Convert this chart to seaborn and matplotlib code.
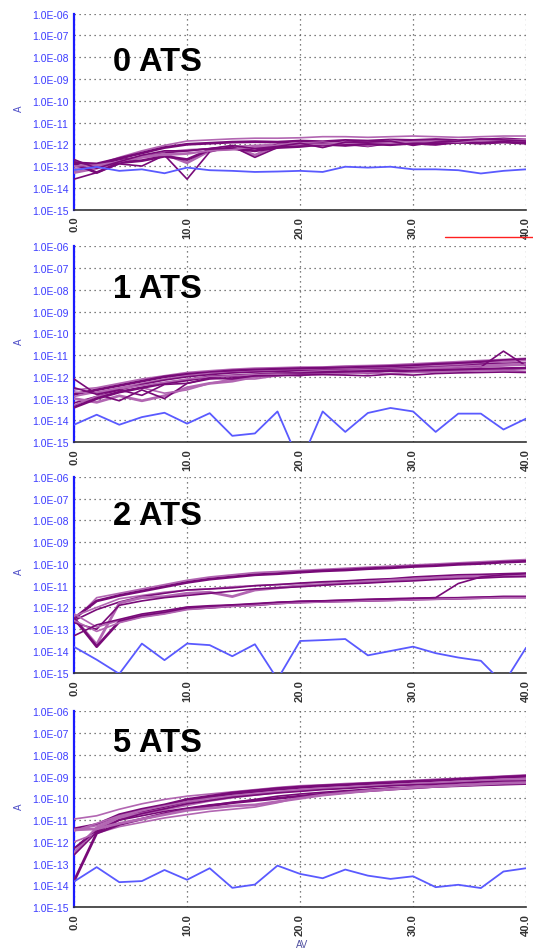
import numpy as np
import pandas as pd
import matplotlib
matplotlib.use("Agg")
import matplotlib.pyplot as plt
import seaborn as sns
from matplotlib.ticker import FixedLocator, FuncFormatter, LogLocator, NullFormatter
from matplotlib.lines import Line2D

# ---------------- data (log10 of current, sampled every 2 V) ----------------
voltage = [0, 2, 4, 6, 8, 10, 12, 14, 16, 18, 20, 22, 24, 26, 28, 30, 32, 34, 36, 38, 40]
panel_titles = ["0 ATS", "1 ATS", "2 ATS", "5 ATS"]

# noise-floor (blue) traces
blue_0ats = [-13.18, -13.04, -13.22, -13.15, -13.33, -13.07, -13.19, -13.22, -13.27, -13.25, -13.22,
             -13.27, -13.03, -13.07, -13.03, -13.15, -13.15, -13.19, -13.34, -13.22, -13.15]
blue_1ats = [-14.2, -13.74, -14.2, -13.85, -13.65, -14.15, -13.67, -14.71, -14.6, -13.59, -16.0,
             -13.59, -14.53, -13.66, -13.43, -13.59, -14.53, -13.69, -13.69, -14.42, -13.92]
blue_2ats = [-13.81, -14.4, -15.05, -13.66, -14.42, -13.66, -13.73, -14.24, -13.69, -15.3, -13.54,
             -13.5, -13.45, -14.2, -14.0, -13.8, -14.1, -14.3, -14.45, -15.5, -13.85]
blue_5ats = [-13.82, -13.16, -13.85, -13.8, -13.29, -13.74, -13.21, -14.11, -13.96, -13.09, -13.47,
             -13.67, -13.27, -13.55, -13.7, -13.58, -14.08, -13.97, -14.12, -13.36, -13.21]

# device (purple) traces, 0 ATS
p0_s1 = [-13.0, -12.95, -12.6, -12.3, -12.05, -11.85, -11.8, -11.75, -11.72, -11.72, -11.7, -11.65, -11.65, -11.68, -11.65, -11.62, -11.65, -11.68, -11.65, -11.62, -11.62]
p0_s2 = [-12.85, -12.9, -12.65, -12.4, -12.15, -12.0, -11.95, -11.9, -11.88, -11.9, -11.85, -11.88, -11.82, -11.85, -11.8, -11.82, -11.78, -11.82, -11.8, -11.75, -11.8]
p0_s3 = [-13.1, -13.0, -12.75, -12.55, -12.35, -12.25, -12.2, -12.1, -12.05, -12.0, -11.95, -11.9, -12.0, -11.95, -11.88, -11.92, -11.95, -11.88, -11.85, -11.9, -11.88]
p0_s4 = [-12.8, -13.0, -12.7, -12.6, -12.4, -12.3, -12.2, -12.1, -12.3, -12.0, -11.98, -12.05, -12.0, -12.1, -11.95, -11.9, -12.0, -11.85, -11.8, -11.85, -11.9]
p0_s5 = [-13.3, -13.1, -12.8, -12.6, -12.45, -12.85, -12.3, -12.1, -12.5, -12.05, -11.95, -12.1, -11.9, -12.05, -11.85, -11.95, -12.0, -11.85, -11.9, -11.8, -11.85]
p0_s6 = [-13.6, -13.3, -12.9, -13.0, -12.5, -13.6, -12.35, -12.1, -12.6, -12.15, -12.0, -11.95, -12.05, -11.95, -11.9, -12.0, -11.9, -11.95, -11.85, -11.8, -11.95]
p0_s7 = [-13.2, -13.0, -12.8, -12.6, -12.45, -12.4, -12.3, -12.2, -12.15, -12.1, -12.05, -12.0, -11.95, -12.0, -11.92, -11.9, -11.95, -11.92, -11.88, -11.85, -11.9]
p0_s8 = [-12.9, -13.3, -12.85, -12.75, -12.55, -12.7, -12.25, -12.2, -12.3, -12.15, -12.1, -12.0, -12.05, -11.98, -12.02, -11.95, -12.0, -11.9, -11.95, -11.9, -11.95]
p0_s9 = [-13.0, -12.95, -12.8, -12.55, -12.5, -12.45, -12.3, -12.25, -12.1, -12.05, -12.0, -12.0, -11.95, -11.9, -11.95, -11.88, -11.85, -11.9, -11.82, -11.8, -11.78]
p0_s10 = [-12.7, -13.1, -12.8, -12.5, -12.3, -12.3, -12.2, -12.05, -12.2, -12.1, -11.95, -12.15, -11.9, -11.9, -11.85, -12.05, -11.9, -11.85, -11.75, -11.8, -11.85]

# 1 ATS
p1_s1 = [-12.6, -12.5, -12.3, -12.1, -11.95, -11.8, -11.72, -11.65, -11.6, -11.58, -11.55, -11.55, -11.5, -11.48, -11.45, -11.4, -11.35, -11.3, -11.25, -11.2, -11.15]
p1_s2 = [-12.8, -12.6, -12.4, -12.2, -12.0, -11.88, -11.8, -11.72, -11.68, -11.65, -11.62, -11.6, -11.58, -11.55, -11.52, -11.48, -11.42, -11.38, -11.32, -11.25, -11.2]
p1_s3 = [-12.9, -12.7, -12.5, -12.3, -12.1, -11.95, -11.85, -11.8, -11.75, -11.72, -11.7, -11.68, -11.65, -11.62, -11.6, -11.55, -11.5, -11.45, -11.4, -11.3, -11.25]
p1_s4 = [-13.2, -12.9, -12.6, -12.35, -12.15, -12.0, -11.9, -11.82, -11.78, -11.75, -11.72, -11.7, -11.68, -11.65, -11.62, -11.58, -11.55, -11.5, -11.42, -11.38, -11.35]
p1_s5 = [-13.0, -13.17, -12.87, -13.1, -12.87, -12.5, -12.3, -12.2, -12.0, -11.9, -11.8, -11.75, -11.72, -11.7, -11.68, -11.65, -11.6, -11.55, -11.5, -11.45, -11.4]
p1_s6 = [-12.1, -12.8, -13.1, -12.6, -13.0, -12.3, -12.1, -12.05, -11.95, -11.9, -11.95, -11.8, -11.75, -11.85, -11.7, -11.65, -11.7, -11.6, -11.55, -10.82, -11.5]
p1_s7 = [-13.3, -12.9, -12.7, -12.5, -12.75, -12.6, -12.3, -12.1, -12.1, -11.95, -11.85, -11.8, -11.85, -11.75, -11.7, -11.65, -11.62, -11.6, -11.55, -11.5, -11.45]
p1_s8 = [-13.4, -13.0, -12.7, -12.5, -12.3, -12.15, -12.0, -11.95, -11.9, -11.85, -11.85, -11.8, -11.78, -11.75, -11.72, -11.75, -11.7, -11.68, -11.65, -11.62, -11.6]
p1_s9 = [-12.7, -12.75, -12.55, -12.4, -12.25, -12.1, -12.0, -11.95, -11.9, -11.88, -11.9, -11.88, -11.85, -11.82, -11.85, -11.8, -11.78, -11.75, -11.72, -11.7, -11.75]
p1_s10 = [-12.5, -12.8, -12.6, -12.85, -12.35, -12.3, -12.05, -12.1, -11.95, -11.95, -11.92, -11.9, -11.92, -11.95, -11.88, -11.92, -11.85, -11.82, -11.8, -11.78, -11.8]

# 2 ATS
p2_s1 = [-12.6, -11.55, -11.35, -11.15, -10.95, -10.75, -10.6, -10.5, -10.4, -10.35, -10.3, -10.25, -10.2, -10.15, -10.1, -10.05, -10.0, -9.95, -9.9, -9.85, -9.8]
p2_s2 = [-12.5, -11.7, -11.45, -11.25, -11.05, -10.85, -10.7, -10.6, -10.5, -10.45, -10.38, -10.32, -10.28, -10.22, -10.18, -10.12, -10.08, -10.02, -9.98, -9.92, -9.88]
p2_s3 = [-12.4, -12.0, -11.6, -11.45, -11.3, -11.2, -11.15, -11.05, -11.0, -10.95, -10.9, -10.85, -10.8, -10.75, -10.7, -10.65, -10.6, -10.55, -10.52, -10.5, -10.45]
p2_s4 = [-12.6, -12.1, -11.75, -11.5, -11.35, -11.2, -11.15, -11.1, -11.0, -10.95, -10.88, -10.82, -10.78, -10.72, -10.68, -10.6, -10.55, -10.5, -10.48, -10.45, -10.42]
p2_s5 = [-12.5, -13.7, -11.8, -11.55, -11.5, -11.35, -11.3, -11.5, -11.2, -11.1, -11.0, -10.95, -10.88, -10.82, -10.75, -10.7, -10.65, -10.6, -10.58, -10.55, -10.55]
p2_s6 = [-12.7, -13.0, -11.9, -11.7, -11.55, -11.45, -11.35, -11.25, -11.15, -11.1, -11.05, -10.98, -10.92, -10.88, -10.82, -10.78, -10.72, -10.68, -10.65, -10.6, -10.58]
p2_s7 = [-12.3, -12.9, -12.6, -12.35, -12.2, -12.0, -11.95, -11.9, -11.85, -11.78, -11.72, -11.7, -11.68, -11.65, -11.6, -11.58, -11.55, -11.55, -11.52, -11.5, -11.5]
p2_s8 = [-12.5, -13.8, -12.65, -12.4, -12.25, -12.05, -12.0, -11.92, -11.88, -11.8, -11.75, -11.72, -11.7, -11.68, -11.65, -11.62, -11.6, -11.58, -11.55, -11.52, -11.52]
p2_s9 = [-12.6, -13.1, -12.7, -12.45, -12.3, -12.1, -12.02, -11.95, -11.9, -11.82, -11.78, -11.75, -11.72, -11.7, -11.68, -11.65, -11.62, -11.6, -11.58, -11.55, -11.55]
p2_s10 = [-13.3, -12.8, -12.55, -12.3, -12.15, -11.98, -11.92, -11.88, -11.82, -11.76, -11.72, -11.7, -11.66, -11.62, -11.6, -11.58, -11.55, -10.9, -10.6, -10.5, -10.45]

# 5 ATS
p5_s1 = [-10.95, -10.8, -10.5, -10.25, -10.05, -9.9, -9.8, -9.7, -9.6, -9.5, -9.42, -9.38, -9.32, -9.28, -9.22, -9.18, -9.12, -9.08, -9.02, -8.98, -8.92]
p5_s2 = [-11.4, -11.2, -10.75, -10.5, -10.3, -10.05, -9.9, -9.75, -9.65, -9.55, -9.48, -9.42, -9.38, -9.32, -9.28, -9.22, -9.18, -9.12, -9.08, -9.02, -8.98]
p5_s3 = [-11.45, -11.25, -10.85, -10.6, -10.4, -10.2, -10.0, -9.85, -9.72, -9.62, -9.55, -9.5, -9.45, -9.38, -9.32, -9.28, -9.22, -9.18, -9.12, -9.08, -9.05]
p5_s4 = [-12.3, -11.4, -10.95, -10.65, -10.4, -10.15, -9.95, -9.8, -9.7, -9.6, -9.52, -9.45, -9.4, -9.35, -9.3, -9.25, -9.2, -9.15, -9.1, -9.05, -9.0]
p5_s5 = [-12.5, -11.35, -10.9, -10.7, -10.5, -10.3, -10.1, -9.95, -9.82, -9.72, -9.62, -9.55, -9.5, -9.45, -9.4, -9.35, -9.3, -9.25, -9.2, -9.15, -9.12]
p5_s6 = [-12.3, -11.5, -11.0, -10.8, -10.6, -10.45, -10.3, -10.2, -10.05, -9.9, -9.8, -9.72, -9.65, -9.58, -9.52, -9.48, -9.42, -9.38, -9.32, -9.28, -9.25]
p5_s7 = [-12.0, -11.6, -11.3, -11.1, -10.9, -10.75, -10.6, -10.5, -10.4, -10.2, -9.95, -9.85, -9.75, -9.65, -9.58, -9.52, -9.48, -9.42, -9.38, -9.35, -9.3]
p5_s8 = [-13.8, -11.6, -11.2, -10.95, -10.7, -10.5, -10.35, -10.2, -10.1, -10.0, -9.9, -9.8, -9.72, -9.65, -9.58, -9.52, -9.45, -9.42, -9.38, -9.35, -9.32]
p5_s9 = [-11.5, -11.15, -10.8, -10.55, -10.35, -10.15, -10.0, -9.88, -9.78, -9.68, -9.6, -9.55, -9.48, -9.42, -9.38, -9.32, -9.28, -9.22, -9.18, -9.12, -9.1]
p5_s10 = [-12.6, -11.55, -11.0, -10.7, -10.48, -10.25, -10.1, -9.95, -9.85, -9.75, -9.68, -9.6, -9.55, -9.48, -9.42, -9.38, -9.35, -9.3, -9.25, -9.22, -9.2]
p5_s11 = [-11.45, -11.4, -11.15, -10.95, -10.75, -10.55, -10.45, -10.35, -10.3, -10.15, -10.0, -9.85, -9.75, -9.65, -9.58, -9.5, -9.45, -9.4, -9.35, -9.3, -9.28]

panels = [
    (blue_0ats, [p0_s1, p0_s2, p0_s3, p0_s4, p0_s5, p0_s6, p0_s7, p0_s8, p0_s9, p0_s10]),
    (blue_1ats, [p1_s1, p1_s2, p1_s3, p1_s4, p1_s5, p1_s6, p1_s7, p1_s8, p1_s9, p1_s10]),
    (blue_2ats, [p2_s1, p2_s2, p2_s3, p2_s4, p2_s5, p2_s6, p2_s7, p2_s8, p2_s9, p2_s10]),
    (blue_5ats, [p5_s1, p5_s2, p5_s3, p5_s4, p5_s5, p5_s6, p5_s7, p5_s8, p5_s9, p5_s10, p5_s11]),
]

x_ticks = [0, 10, 20, 30, 40]
x_tick_labels = ["0.0", "10.0", "20.0", "30.0", "40.0"]
y_decades = [-15, -14, -13, -12, -11, -10, -9, -8, -7, -6]

# ---------------- style ----------------
sns.set_style("white")
plt.rcParams['font.family'] = ['Liberation Sans', 'DejaVu Sans']

DARK = "#780a78"
LIGHT = "#b266b2"
BLUE = "#5a5aff"
TICKBLUE = "#3c3cff"

fig = plt.figure(figsize=(5.33, 9.53), dpi=100)

bottoms = [0.779, 0.535, 0.293, 0.047]
title_y = [0.755, 0.785, 0.805, 0.84]
H = 0.2056

for i, (blue, series) in enumerate(panels):
    ax = fig.add_axes([0.139, bottoms[i], 0.848, H])
    for j, s in enumerate(series):
        col = DARK if j % 2 else LIGHT
        lw = 2.0 if j % 3 == 1 else 1.2
        sns.lineplot(x=voltage, y=np.power(10.0, s), ax=ax, color=col, lw=lw, zorder=3)
    sns.lineplot(x=voltage, y=np.power(10.0, blue), ax=ax, color=BLUE, lw=1.3, zorder=4)

    ax.set_yscale("log")
    ax.set_ylim(1e-15, 1e-6)
    ax.set_xlim(0, 40)

    ax.yaxis.set_major_locator(FixedLocator([10.0 ** d for d in y_decades]))
    ax.yaxis.set_major_formatter(FuncFormatter(lambda v, p: "1.0E%03d" % int(round(np.log10(v)))))
    ax.yaxis.set_minor_locator(LogLocator(base=10, subs=np.arange(2, 10), numticks=30))
    ax.yaxis.set_minor_formatter(NullFormatter())
    ax.set_xticks(x_ticks)
    ax.set_xticklabels(x_tick_labels, rotation=90, fontsize=8, color="#444444", fontweight="bold")
    ax.set_xticks([5, 15, 25, 35], minor=True)

    ax.tick_params(axis="y", which="major", colors=TICKBLUE, labelsize=7.5, direction="inout", length=4, width=1.2, pad=2)
    ax.tick_params(axis="y", which="minor", colors=TICKBLUE, direction="inout", length=2.5, width=0.8)
    ax.tick_params(axis="x", which="both", colors="#333333", direction="inout", length=5, width=1.0, pad=2)
    for lab in ax.get_yticklabels():
        lab.set_color(TICKBLUE)

    ax.grid(True, which="major", color="#555555", linestyle=(0, (1, 3)), linewidth=0.9)
    for side in ["top", "right"]:
        ax.spines[side].set_visible(False)
    ax.spines["left"].set_color("#1a1aff")
    ax.spines["left"].set_linewidth(1.6)
    ax.spines["bottom"].set_color("#333333")
    ax.spines["bottom"].set_linewidth(1.2)

    ax.set_xlabel("")
    ax.set_ylabel("A", color="#5050c8", fontsize=7)
    ax.yaxis.set_label_coords(-0.11, 0.52)

    ax.text(0.086, title_y[i], panel_titles[i], transform=ax.transAxes, fontsize=23.5,
            fontweight="bold", color="black", va="center", ha="left")

fig.text(0.566, 0.008, "AV", fontsize=7, color="#5050a0", ha="center", va="center")
fig.add_artist(Line2D([0.835, 1.0], [0.7505, 0.7505], color="#ff2020", lw=1.0))

fig.savefig("out.png", dpi=100)
